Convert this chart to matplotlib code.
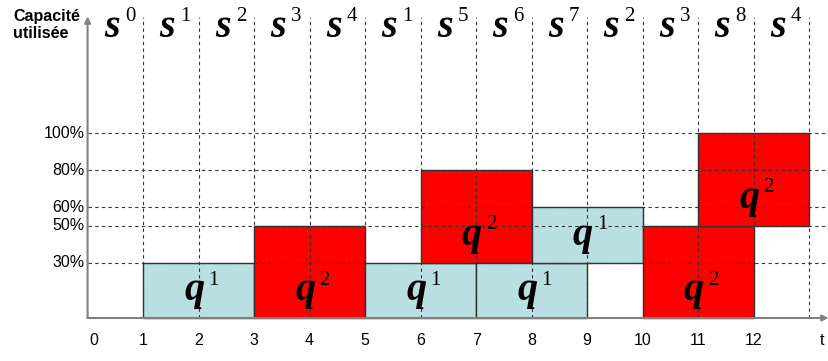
import matplotlib.pyplot as plt

# occupation blocks: start time, lower and upper capacity (%), product index
starts = [1, 3, 5, 6, 7, 8, 10, 11]
lows = [0, 0, 0, 30, 0, 30, 0, 50]
highs = [30, 50, 30, 80, 30, 60, 50, 100]
products = [1, 2, 1, 2, 1, 1, 2, 2]
block_width = 2

# state reached in each time slot
states = [0, 1, 2, 3, 4, 1, 5, 6, 7, 2, 3, 8, 4]
x_ticks = list(range(13))
y_levels = [30, 50, 60, 80, 100]

colors = {1: '#b9dfe3', 2: '#ff0000'}

fig = plt.figure(figsize=(8.29, 3.61), dpi=100)
ax = fig.add_axes([0, 0, 1, 1])
ax.set_xlim(-1.578, 13.359)
ax.set_ylim(-23.24, 171.9)
ax.axis('off')

# blocks
for s, lo, hi, p in zip(starts, lows, highs, products):
    ax.bar(s, hi - lo, width=block_width, bottom=lo, align='edge',
           color=colors[p], edgecolor='#333333', linewidth=1, zorder=1)
    cx = s + block_width / 2
    ax.text(cx + 0.1, lo + 9.5, 'q', ha='right', va='baseline',
            family='Liberation Serif', style='italic', weight='bold',
            fontsize=29, zorder=4)
    ax.text(cx + 0.18, lo + 18, str(p), ha='left', va='baseline',
            family='Liberation Serif', fontsize=15, zorder=4)

# dashed grid
dash = dict(color='#333333', linewidth=0.8, linestyle=(0, (3, 3)), zorder=3)
for yl in y_levels:
    ax.plot([0, 13.32], [yl, yl], **dash)
for xv in range(1, 14):
    ax.plot([xv, xv], [0, 162.5], **dash)

# axes with arrows
ax.annotate('', xy=(13.35, 0), xytext=(0, 0),
            arrowprops=dict(arrowstyle='-|>', color='#808080', lw=1.5,
                            mutation_scale=9, shrinkA=0, shrinkB=0), zorder=5)
ax.annotate('', xy=(0, 163), xytext=(0, 0),
            arrowprops=dict(arrowstyle='-|>', color='#808080', lw=1.5,
                            mutation_scale=9, shrinkA=0, shrinkB=0), zorder=5)

# tick labels
for xv in x_ticks:
    ax.text(xv + (0.12 if xv == 0 else 0), -12.3, str(xv), ha='center',
            va='center', family='Liberation Sans', fontsize=11.5)
ax.text(13.23, -12.3, 't', ha='center', va='center',
        family='Liberation Sans', fontsize=11.5)
for yl in y_levels:
    ax.text(-0.05, yl, f'{yl}%', ha='right', va='center',
            family='Liberation Sans', fontsize=11.5)

ax.text(-1.344, 167, 'Capacité\nutilisée', ha='left', va='top',
        family='Liberation Sans', weight='bold', fontsize=11.5,
        linespacing=1.2)

# state labels above each slot
for i, st in enumerate(states):
    ax.text(i + 0.58, 152, 's', ha='right', va='baseline',
            family='Liberation Serif', style='italic', weight='bold',
            fontsize=29)
    ax.text(i + 0.67, 160.5, str(st), ha='left', va='baseline',
            family='Liberation Serif', fontsize=15)

fig.savefig('out.png', dpi=100)
